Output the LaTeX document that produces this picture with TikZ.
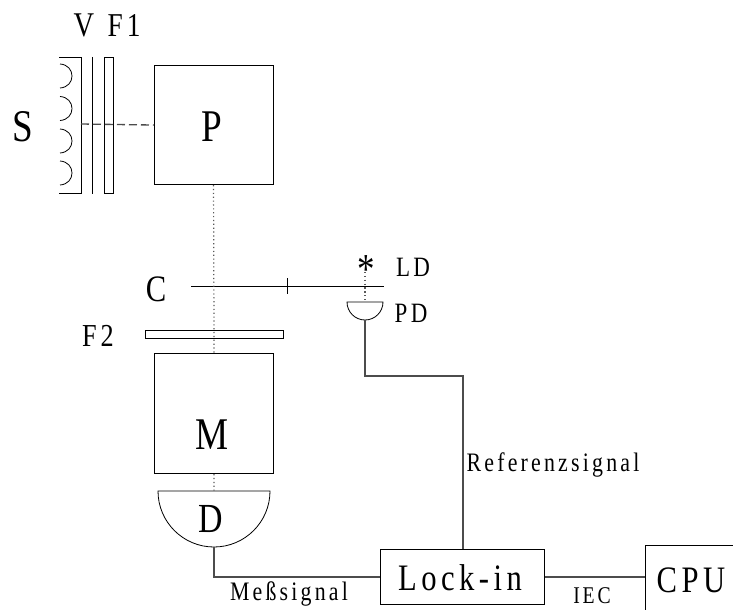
\documentclass[tikz,border=0pt]{standalone}
\usepackage{fontspec}
\setmainfont{Liberation Serif}[FakeStretch=0.82]
\newfontfamily\spaced{Liberation Serif}[FakeStretch=0.82,LetterSpace=12]
\tikzset{
  px/.style={x=0.75pt,y=-0.75pt},
  box/.style={draw,line width=0.8pt,inner sep=0pt,anchor=north west},
  wire/.style={draw=black!70,line width=1pt},
  beam/.style={draw=black!65,line width=0.9pt,dotted},
  big/.style={inner sep=0pt,font=\fontsize{34}{34}\selectfont},
  mid/.style={inner sep=0pt,font=\fontsize{28}{28}\spaced},
  small/.style={inner sep=0pt,font=\fontsize{21}{21}\spaced},
  tiny/.style={inner sep=0pt,font=\fontsize{20}{20}\spaced},
}
\begin{document}
\begin{tikzpicture}[px]
\useasboundingbox (0,0) rectangle (733,610);
% boxes
\node[box,minimum width=119*0.75pt,minimum height=119*0.75pt] (P) at (154,65) {};
\node[box,minimum width=119*0.75pt,minimum height=120*0.75pt] (M) at (154,353) {};
\node[box,minimum width=164*0.75pt,minimum height=55*0.75pt] (L) at (380,549) {};
\node[box,minimum width=130*0.75pt,minimum height=100*0.75pt] (CPU) at (645,545) {};
\node[box,minimum width=9*0.75pt,minimum height=136*0.75pt] (F1) at (104,57) {};
\node[box,minimum width=138*0.75pt,minimum height=8*0.75pt] (F2) at (145,330) {};
% lamp
\coordinate (lampT) at (59,57);
\coordinate (lampB) at (59,193);
\coordinate (lampM) at (81,124);
\draw[line width=0.7pt] (lampT) -- (81,57) -- (81,193) -- (lampB);
\foreach \y in {64,96.5,129,161}
  \draw[line width=0.6pt] (60,\y) .. controls (76,\y+1) and (76,\y+23) .. (60,\y+24);
% V
\coordinate (Vt) at (92,57);
\coordinate (Vb) at (92,194);
\draw[line width=0.7pt] (Vt) -- (Vb);
% chopper
\coordinate (Cl) at (191,286);
\coordinate (Cr) at (384,286);
\coordinate (Tt) at (287,278);
\coordinate (Tb) at (287,294);
\draw[line width=0.65pt] (Cl) -- (Cr);
\draw[line width=0.65pt] (Tt) -- (Tb);
% detectors
\coordinate (Dt) at (214,491);
\coordinate (Db) at (214,547);
\draw[line width=0.6pt] (158,491) -- (270,491) arc[start angle=0,end angle=180,radius=56] -- cycle;
\coordinate (PDt) at (365,302);
\coordinate (PDb) at (365,320);
\draw[line width=0.6pt] (347,302) -- (383,302) arc[x radius=18,y radius=18,start angle=0,end angle=180] -- cycle;
% star
\node[inner sep=0pt,font=\fontsize{32}{32}\selectfont] (LD) at (366,270) {*};
\coordinate (LDb) at (365,272);
% beams
\draw[draw=black!70,line width=1pt,dash pattern=on 6pt off 3pt] (lampM) -- (P.west);
\draw[beam] (P.south) ++(-0.5,0) -- (F2.south -| P.south) -- (M.north);
\draw[beam] (M.south) -- (Dt);
\draw[beam] (LDb) -- (PDt);
% wires
\draw[wire] (PDb) -- (365,376) -- (463,376) -- (463,549);
\draw[wire] (Db) |- (L.west);
\draw[wire] (L.east) -- (L.east -| CPU.west);
% labels
\node[big] at (23,127) {S};
\node[big] at (212,127) {P};
\node[big] at (212,435) {M};
\node[inner sep=0pt,font=\fontsize{31}{31}\selectfont] at (211,519) {D};
\node[inner sep=0pt,font=\fontsize{26}{26}\selectfont] at (84,25) {V};
\node[inner sep=0pt,font=\fontsize{25}{25}\spaced] at (124,25) {F1};
\node[inner sep=0pt,font=\fontsize{28}{28}\selectfont] at (156,289) {C};
\node[inner sep=0pt,font=\fontsize{24}{24}\spaced] at (98,336) {F2};
\node[small] at (413,267) {LD};
\node[small] at (411,313) {PD};
\node[mid] at (460,578) {Lock-in};
\node[mid] at (691,580) {CPU};
\node[tiny] at (289,594) {Meßsignal};
\node[tiny] at (553,465) {Referenzsignal};
\node[inner sep=0pt,font=\fontsize{18}{18}\spaced] at (592,596) {IEC};
\end{tikzpicture}
\end{document}
